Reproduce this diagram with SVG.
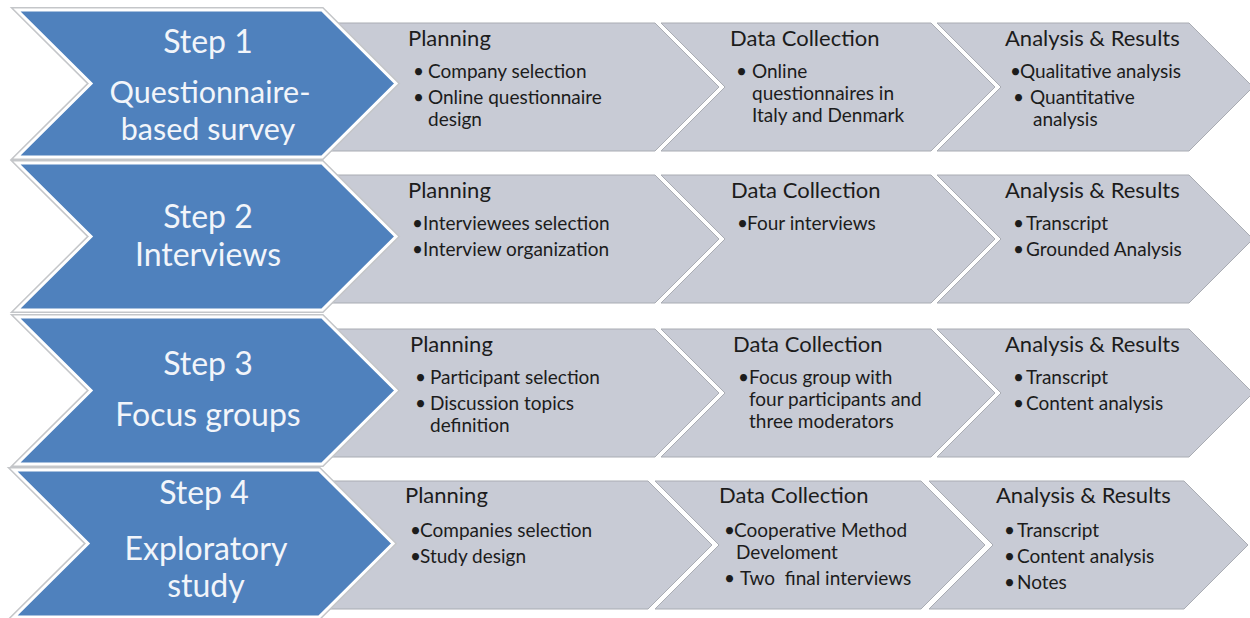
<svg xmlns="http://www.w3.org/2000/svg" width="1250" height="618" viewBox="0 0 1250 618">
<style>
  .grey { fill:#c8cbd5; stroke:#a9acb3; stroke-width:1; }
  .blueedge { fill:none; stroke:#c4c6c9; stroke-width:6; stroke-linejoin:miter; }
  .blue { fill:#4f81bd; stroke:#ffffff; stroke-width:3; stroke-linejoin:miter; }
  .title { font-family:Lato, "Liberation Sans", sans-serif; font-size:32px; fill:#f2f5fa; text-anchor:middle; }
  .tight { font-size:30.5px; }
  .head { font-family:Lato, "Liberation Sans", sans-serif; font-size:22px; fill:#1c1c1c; }
  .item { font-family:Lato, "Liberation Sans", sans-serif; font-size:19px; fill:#1c1c1c; white-space:pre; }
</style>
<rect width="1250" height="618" fill="#ffffff"/>

<!-- Row 1 grey stages -->
<g id="step1-planning">
  <path class="grey" d="M330,23 L655,23 L719,87 L655,151 L330,151 L394,87 Z"/>
  <text class="head" x="408" y="46">Planning</text>
  <text class="item" y="78"><tspan x="413">•</tspan><tspan x="428">Company selection</tspan></text>
  <text class="item" y="104"><tspan x="413">•</tspan><tspan x="428">Online questionnaire</tspan></text>
  <text class="item" x="428" y="126">design</text>
</g>
<g id="step1-data">
  <path class="grey" d="M661,23 L931,23 L995,87 L931,151 L661,151 L725,87 Z"/>
  <text class="head" x="730" y="46">Data Collection</text>
  <text class="item" y="78"><tspan x="736">•</tspan><tspan x="752">Online</tspan></text>
  <text class="item" x="752" y="100">questionnaires in</text>
  <text class="item" x="752" y="122">Italy and Denmark</text>
</g>
<g id="step1-analysis">
  <path class="grey" d="M937,23 L1189,23 L1253,87 L1189,151 L937,151 L1001,87 Z"/>
  <text class="head" x="1005" y="46">Analysis &amp; Results</text>
  <text class="item" y="78"><tspan x="1010">•</tspan><tspan x="1020">Qualitative analysis</tspan></text>
  <text class="item" y="104"><tspan x="1013">•</tspan><tspan x="1030">Quantitative</tspan></text>
  <text class="item" x="1033" y="126">analysis</text>
</g>

<!-- Row 2 grey stages -->
<g id="step2-planning">
  <path class="grey" d="M330,175 L655,175 L719,239 L655,303 L330,303 L394,239 Z"/>
  <text class="head" x="408" y="198">Planning</text>
  <text class="item" y="230"><tspan x="412">•</tspan><tspan x="423">Interviewees selection</tspan></text>
  <text class="item" y="256"><tspan x="412">•</tspan><tspan x="423">Interview organization</tspan></text>
</g>
<g id="step2-data">
  <path class="grey" d="M661,175 L931,175 L995,239 L931,303 L661,303 L725,239 Z"/>
  <text class="head" x="731" y="198">Data Collection</text>
  <text class="item" y="230"><tspan x="737">•</tspan><tspan x="747">Four interviews</tspan></text>
</g>
<g id="step2-analysis">
  <path class="grey" d="M937,175 L1189,175 L1253,239 L1189,303 L937,303 L1001,239 Z"/>
  <text class="head" x="1005" y="198">Analysis &amp; Results</text>
  <text class="item" y="230"><tspan x="1013">•</tspan><tspan x="1026">Transcript</tspan></text>
  <text class="item" y="256"><tspan x="1013">•</tspan><tspan x="1026">Grounded Analysis</tspan></text>
</g>

<!-- Row 3 grey stages -->
<g id="step3-planning">
  <path class="grey" d="M330,329 L655,329 L719,393 L655,457 L330,457 L394,393 Z"/>
  <text class="head" x="410" y="352">Planning</text>
  <text class="item" y="384"><tspan x="415">•</tspan><tspan x="430">Participant selection</tspan></text>
  <text class="item" y="410"><tspan x="415">•</tspan><tspan x="430">Discussion topics</tspan></text>
  <text class="item" x="430" y="432">definition</text>
</g>
<g id="step3-data">
  <path class="grey" d="M661,329 L931,329 L995,393 L931,457 L661,457 L725,393 Z"/>
  <text class="head" x="733" y="352">Data Collection</text>
  <text class="item" y="384"><tspan x="738">•</tspan><tspan x="749">Focus group with</tspan></text>
  <text class="item" x="749" y="406">four participants and</text>
  <text class="item" x="749" y="428">three moderators</text>
</g>
<g id="step3-analysis">
  <path class="grey" d="M937,329 L1189,329 L1253,393 L1189,457 L937,457 L1001,393 Z"/>
  <text class="head" x="1005" y="352">Analysis &amp; Results</text>
  <text class="item" y="384"><tspan x="1013">•</tspan><tspan x="1026">Transcript</tspan></text>
  <text class="item" y="410"><tspan x="1013">•</tspan><tspan x="1026">Content analysis</tspan></text>
</g>

<!-- Row 4 grey stages -->
<g id="step4-planning">
  <path class="grey" d="M325,481 L648,481 L712,545 L648,609 L325,609 L389,545 Z"/>
  <text class="head" x="405" y="503">Planning</text>
  <text class="item" y="537"><tspan x="410">•</tspan><tspan x="420">Companies selection</tspan></text>
  <text class="item" y="563"><tspan x="410">•</tspan><tspan x="420">Study design</tspan></text>
</g>
<g id="step4-data">
  <path class="grey" d="M655,481 L921,481 L985,545 L921,609 L655,609 L719,545 Z"/>
  <text class="head" x="719" y="503">Data Collection</text>
  <text class="item" y="537"><tspan x="724">•</tspan><tspan x="734">Cooperative Method</tspan></text>
  <text class="item" x="736" y="559">Develoment</text>
  <text class="item" y="585"><tspan x="724">•</tspan><tspan x="740">Two  final interviews</tspan></text>
</g>
<g id="step4-analysis">
  <path class="grey" d="M929,481 L1184,481 L1248,545 L1184,609 L929,609 L993,545 Z"/>
  <text class="head" x="996" y="503">Analysis &amp; Results</text>
  <text class="item" y="537"><tspan x="1004">•</tspan><tspan x="1017">Transcript</tspan></text>
  <text class="item" y="563"><tspan x="1004">•</tspan><tspan x="1017">Content analysis</tspan></text>
  <text class="item" y="589"><tspan x="1004">•</tspan><tspan x="1017">Notes</tspan></text>
</g>

<!-- Blue step chevrons -->
<g id="step1">
  <path class="blueedge" d="M17,10 L322,10 L396,83.5 L322,157 L17,157 L91,83.5 Z"/>
  <path class="blue" d="M17,10 L322,10 L396,83.5 L322,157 L17,157 L91,83.5 Z"/>
  <text class="title" x="208" y="53">Step 1</text>
  <text class="title tight" x="210" y="103">Questionnaire-</text>
  <text class="title tight" x="208" y="140">based survey</text>
</g>
<g id="step2">
  <path class="blueedge" d="M17,163 L322,163 L396,236.5 L322,310 L17,310 L91,236.5 Z"/>
  <path class="blue" d="M17,163 L322,163 L396,236.5 L322,310 L17,310 L91,236.5 Z"/>
  <text class="title" x="208" y="228">Step 2</text>
  <text class="title" x="208" y="266">Interviews</text>
</g>
<g id="step3">
  <path class="blueedge" d="M17,317 L322,317 L396,390.5 L322,464 L17,464 L91,390.5 Z"/>
  <path class="blue" d="M17,317 L322,317 L396,390.5 L322,464 L17,464 L91,390.5 Z"/>
  <text class="title" x="208" y="375">Step 3</text>
  <text class="title" x="208" y="426">Focus groups</text>
</g>
<g id="step4">
  <path class="blueedge" d="M14,470 L319,470 L393,543.5 L319,617 L14,617 L88,543.5 Z"/>
  <path class="blue" d="M14,470 L319,470 L393,543.5 L319,617 L14,617 L88,543.5 Z"/>
  <text class="title" x="204" y="504">Step 4</text>
  <text class="title" x="206" y="560">Exploratory</text>
  <text class="title" x="206" y="597">study</text>
</g>

<g id="connectors"></g>
</svg>
